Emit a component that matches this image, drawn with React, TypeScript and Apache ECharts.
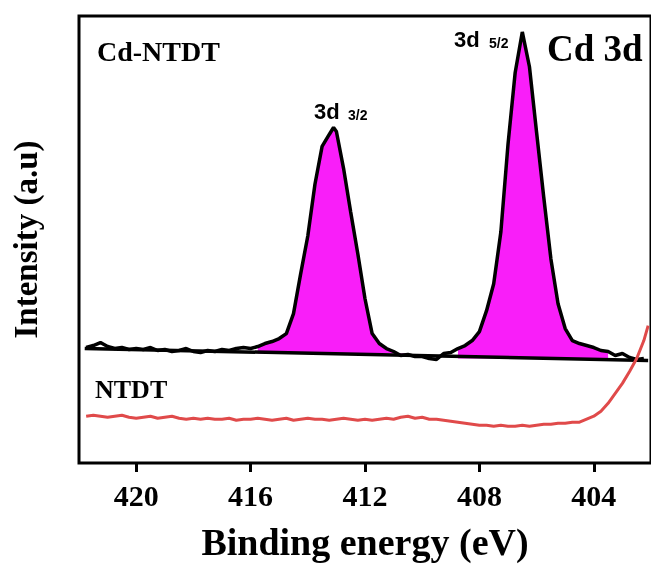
import React, { useEffect, useRef } from "react";
import * as echarts from "echarts";

// Binding energy (eV) of the Cd-NTDT spectrum
const ENERGY = [
  421.75, 421.5, 421.25, 421, 420.75, 420.5, 420.25, 420, 419.75, 419.5, 419.25, 419,
  418.75, 418.5, 418.25, 418, 417.75, 417.5, 417.25, 417, 416.75, 416.5, 416.25, 416,
  415.75, 415.5, 415.25, 415, 414.75, 414.5, 414.25, 414, 413.75, 413.5, 413.25, 413.1,
  413, 412.75, 412.5, 412.25, 412, 411.75, 411.5, 411.25, 411, 410.75, 410.5, 410.25,
  410, 409.75, 409.5, 409.25, 409, 408.75, 408.5, 408.25, 408, 407.75, 407.5, 407.25,
  407, 406.75, 406.5, 406.25, 406, 405.75, 405.5, 405.25, 405, 404.75, 404.5, 404.25,
  404, 403.75, 403.5, 403.25, 403, 402.75, 402.5, 402.25,
];
// Intensity (a.u.) of Cd-NTDT
const CD_NTDT = [
  116, 118, 121, 117, 115, 116, 114, 115, 114, 116, 113, 114,
  112, 113, 115, 112, 111, 113, 112, 114, 113, 115, 116, 115,
  117, 120, 122, 125, 130, 150, 190, 228, 280, 318, 330, 337,
  333, 296, 252, 210, 165, 130, 120, 115, 112, 108, 109, 107,
  107, 105, 104, 110, 111, 115, 118, 123, 132, 153, 180, 232,
  320, 392, 433, 398, 332, 267, 205, 160, 135, 123, 120, 118,
  116, 113, 112, 108, 110, 106, 104, 105,
];
// NTDT spectrum
const NTDT_ENERGY = [
  421.75, 421.5, 421.25, 421, 420.75, 420.5, 420.25, 420, 419.75, 419.5, 419.25, 419,
  418.75, 418.5, 418.25, 418, 417.75, 417.5, 417.25, 417, 416.75, 416.5, 416.25, 416,
  415.75, 415.5, 415.25, 415, 414.75, 414.5, 414.25, 414, 413.75, 413.5, 413.25, 413,
  412.75, 412.5, 412.25, 412, 411.75, 411.5, 411.25, 411, 410.75, 410.5, 410.25, 410,
  409.75, 409.5, 409.25, 409, 408.75, 408.5, 408.25, 408, 407.75, 407.5, 407.25, 407,
  406.75, 406.5, 406.25, 406, 405.75, 405.5, 405.25, 405, 404.75, 404.5, 404.25, 404,
  403.75, 403.5, 403.25, 403, 402.75, 402.5, 402.25, 402.1,
];
const NTDT = [
  47, 48, 47, 46, 47, 48, 46, 45, 46, 47, 45, 46,
  47, 45, 44, 45, 44, 45, 44, 44, 45, 43, 44, 44,
  45, 44, 43, 44, 45, 43, 44, 45, 44, 44, 43, 44,
  45, 44, 43, 44, 43, 44, 45, 44, 46, 47, 45, 46,
  44, 44, 43, 42, 41, 40, 39, 38, 38, 37, 38, 37,
  37, 38, 37, 38, 39, 39, 40, 40, 41, 41, 44, 47,
  52, 60, 70, 80, 92, 105, 123, 138,
];
// straight background line under the Cd 3d peaks
const BASELINE_ENERGY = [421.8, 402.1];
const BASELINE = [115, 103];
// fitted peak regions (high, low energy) and their background level
const PEAK_RANGES = [
  [415.75, 410.5],
  [408.75, 403.5],
];
const PEAK_ORIGIN = [110, 105];
const X_TICKS = [404, 408, 412, 416, 420];

const SERIF = '"Liberation Serif", "Times New Roman", serif';
const SANS = '"Liberation Sans", Arial, sans-serif';
const MAGENTA = "#f91ef9";

export default function App() {
  const ref = useRef<HTMLDivElement>(null);
  useEffect(() => {
    if (!ref.current) return;
    const chart = echarts.init(ref.current, null, { renderer: "svg" });
    const pairs = (xs: number[], ys: number[]) => xs.map((x, i) => [x, ys[i]]);
    const cd = pairs(ENERGY, CD_NTDT);
    const peakSeries = PEAK_RANGES.map(([hi, lo], k) => ({
      type: "line",
      data: cd.filter(([e]) => e <= hi && e >= lo),
      symbol: "none",
      lineStyle: { width: 0, opacity: 0 },
      areaStyle: { color: MAGENTA, opacity: 1, origin: PEAK_ORIGIN[k] },
      z: 1,
      silent: true,
    }));
    chart.setOption({
      animation: false,
      grid: {
        left: 79,
        right: -4,
        top: 16,
        bottom: 101,
        show: true,
        borderColor: "#000",
        borderWidth: 3,
      },
      xAxis: {
        type: "value",
        inverse: true,
        min: 402,
        max: 422,
        name: "Binding energy (eV)",
        nameLocation: "middle",
        nameGap: 60,
        nameTextStyle: { fontFamily: SERIF, fontWeight: "bold", fontSize: 38, color: "#000" },
        axisLine: { show: false },
        axisTick: {
          show: true,
          inside: false,
          length: 9,
          customValues: X_TICKS,
          lineStyle: { color: "#000", width: 3 },
        },
        axisLabel: {
          customValues: X_TICKS,
          margin: 17,
          fontFamily: SERIF,
          fontWeight: "bold",
          fontSize: 30,
          color: "#000",
        },
        splitLine: { show: false },
      },
      yAxis: {
        type: "value",
        min: 0,
        max: 449,
        name: "Intensity (a.u)",
        nameLocation: "middle",
        nameRotate: 90,
        nameGap: 37,
        nameTextStyle: { fontFamily: SERIF, fontWeight: "bold", fontSize: 33, color: "#000" },
        axisLine: { show: false },
        axisTick: { show: false },
        axisLabel: { show: false },
        splitLine: { show: false },
      },
      series: [
        ...peakSeries,
        {
          type: "line",
          data: pairs(BASELINE_ENERGY, BASELINE),
          symbol: "none",
          lineStyle: { color: "#000", width: 3.5 },
          z: 2,
          silent: true,
        },
        {
          type: "line",
          data: cd,
          symbol: "none",
          lineStyle: { color: "#000", width: 3.5 },
          z: 3,
          silent: true,
        },
        {
          type: "line",
          data: pairs(NTDT_ENERGY, NTDT),
          symbol: "none",
          lineStyle: { color: "#e04a4a", width: 3 },
          z: 4,
          silent: true,
        },
      ],
      graphic: [
        {
          type: "text",
          x: 97,
          y: 37,
          style: { text: "Cd-NTDT", fontFamily: SERIF, fontWeight: "bold", fontSize: 28, fill: "#000", align: "left", verticalAlign: "top" },
        },
        {
          type: "text",
          x: 95,
          y: 376,
          style: { text: "NTDT", fontFamily: SERIF, fontWeight: "bold", fontSize: 26, fill: "#000", align: "left", verticalAlign: "top" },
        },
        {
          type: "text",
          x: 547,
          y: 30,
          style: { text: "Cd 3d", fontFamily: SERIF, fontWeight: "bold", fontSize: 37, fill: "#000", align: "left", verticalAlign: "top" },
        },
        {
          type: "text",
          x: 454,
          y: 28,
          style: { text: "3d", fontFamily: SANS, fontWeight: "bold", fontSize: 22, fill: "#000", align: "left", verticalAlign: "top" },
        },
        {
          type: "text",
          x: 489,
          y: 36,
          style: { text: "5/2", fontFamily: SANS, fontWeight: "bold", fontSize: 14, fill: "#000", align: "left", verticalAlign: "top" },
        },
        {
          type: "text",
          x: 314,
          y: 100,
          style: { text: "3d", fontFamily: SANS, fontWeight: "bold", fontSize: 22, fill: "#000", align: "left", verticalAlign: "top" },
        },
        {
          type: "text",
          x: 348,
          y: 108,
          style: { text: "3/2", fontFamily: SANS, fontWeight: "bold", fontSize: 14, fill: "#000", align: "left", verticalAlign: "top" },
        },
      ],
    });
    return () => chart.dispose();
  }, []);
  return <div ref={ref} style={{ position: "fixed", left: 0, top: 0, width: 651, height: 566 }} />;
}
